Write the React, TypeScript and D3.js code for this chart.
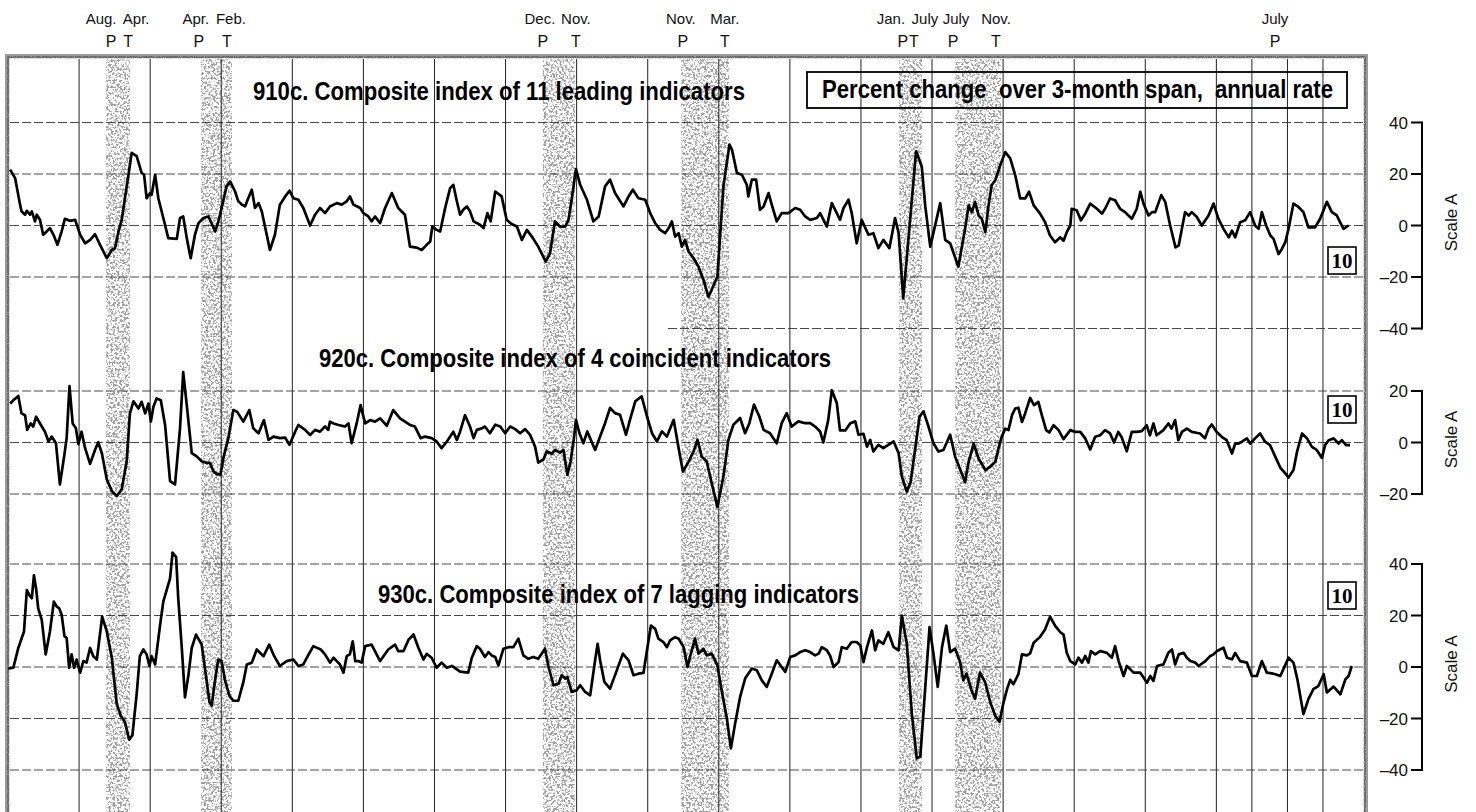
import React from "react";
import * as d3 from "d3";

// Time is measured in years after January 1955 (BASE_YEAR).
const BASE_YEAR = 1955;

// 910c. Composite index of 11 leading indicators (percent change, 3-month span, annual rate)
const leading: [number, number][] = [
  [0.06,21.7],[0.2,18.4],[0.34,8.1],[0.38,5.5],[0.48,4.2],[0.53,5.7],[0.62,4.2],[0.67,5.5],[0.76,1.6],[0.81,4.2],[0.9,2.2],[0.99,-3.6],[1.09,-2.3],[1.18,-1.0],[1.28,-3.6],[1.39,-7.5],[1.51,-2.3],[1.6,2.6],[1.74,1.8],[1.89,2.2],[2.03,-3.6],[2.17,-6.9],[2.31,-5.6],[2.45,-3.4],[2.59,-7.5],[2.78,-12.7],[2.92,-9.5],[3.01,-8.8],[3.11,-2.3],[3.2,2.2],[3.29,10.6],[3.39,19.7],[3.48,28.2],[3.62,26.9],[3.76,20.4],[3.83,19.7],[3.9,10.6],[4.0,12.6],[4.04,11.9],[4.14,19.7],[4.23,10.6],[4.37,2.9],[4.51,-4.9],[4.75,-5.2],[4.84,2.9],[4.93,3.5],[5.03,-4.9],[5.14,-12.7],[5.26,-3.6],[5.36,0.9],[5.5,2.9],[5.64,3.5],[5.83,-2.3],[5.92,1.6],[6.01,6.8],[6.15,15.2],[6.25,17.1],[6.39,13.2],[6.48,9.4],[6.58,8.1],[6.67,7.4],[6.76,10.6],[6.86,13.9],[6.95,6.8],[7.05,8.7],[7.14,5.5],[7.28,-3.6],[7.37,-9.5],[7.51,-3.6],[7.65,8.1],[7.8,11.3],[7.92,13.5],[8.03,10.6],[8.17,10.0],[8.31,6.8],[8.5,0],[8.64,4.2],[8.78,6.8],[8.92,4.8],[9.06,7.4],[9.25,8.7],[9.39,8.1],[9.53,9.4],[9.62,11.3],[9.72,8.1],[9.91,6.8],[10.0,4.8],[10.14,3.5],[10.23,1.6],[10.33,3.5],[10.47,0.9],[10.61,6.8],[10.8,12.6],[10.98,6.8],[11.17,4.2],[11.31,-8.2],[11.5,-8.6],[11.64,-9.5],[11.78,-7.5],[11.88,-6.2],[11.94,-0.4],[12.06,-1.7],[12.16,-2.3],[12.3,6.8],[12.44,14.5],[12.53,15.8],[12.63,9.4],[12.72,4.2],[12.81,6.1],[12.91,7.4],[13.0,5.5],[13.1,1.6],[13.28,0.3],[13.38,-1.0],[13.49,4.8],[13.58,1.6],[13.71,13.2],
  [13.89,11.3],[14.03,2.2],[14.17,0.6],[14.32,-0.4],[14.46,-5.6],[14.6,-1.7],[14.74,-4.3],[14.92,-8.2],[15.13,-14.0],[15.25,-10.8],[15.39,1.6],[15.53,-0.4],[15.68,-0.4],[15.77,2.2],[15.86,10.0],[15.98,21.9],[16.1,15.8],[16.29,10.0],[16.47,1.6],[16.62,3.5],[16.8,15.2],[16.94,17.8],[17.08,12.6],[17.32,7.4],[17.46,11.3],[17.58,13.9],[17.74,10.6],[17.93,10.0],[18.07,4.8],[18.21,0.9],[18.35,-1.7],[18.49,-3.0],[18.59,-1.0],[18.68,1.6],[18.77,-4.3],[18.87,-3.0],[18.96,-8.2],[19.05,-5.6],[19.15,-10.1],[19.29,-12.7],[19.43,-16.0],[19.57,-21.2],[19.71,-27.7],[19.96,-19.9],[20.13,15.2],[20.3,31.4],[20.37,29.5],[20.51,20.4],[20.65,19.7],[20.79,15.8],[20.83,11.3],[20.93,17.8],[21.05,17.8],[21.16,6.1],[21.26,7.4],[21.4,12.6],[21.49,8.1],[21.63,1.6],[21.77,4.8],[21.96,4.8],[22.15,6.8],[22.29,6.1],[22.43,3.5],[22.57,2.2],[22.76,2.9],[22.85,4.8],[23.04,-0.4],[23.18,8.7],[23.32,4.8],[23.41,2.2],[23.51,6.8],[23.65,10.0],[23.74,4.8],[23.88,-6.9],[24.02,2.2],[24.21,-3.6],[24.35,-3.0],[24.49,-8.8],[24.63,-5.6],[24.8,-8.8],[24.96,2.9],[25.06,-3.0],[25.19,-28.3],[25.55,28.8],[25.71,23.0],[25.81,7.4],[25.95,-8.2],[26.23,8.7],[26.37,-5.6],[26.51,-6.9],[26.74,-16.0],
  [26.93,-1.3],[27.03,7.8],[27.12,5.2],[27.21,9.2],[27.31,3.9],[27.4,2.6],[27.5,-2.6],[27.59,7.8],[27.68,15.7],[27.78,17.6],[27.92,23.5],[28.06,28.5],[28.2,26.1],[28.34,19.6],[28.48,10.5],[28.62,10.5],[28.73,13.1],[28.86,7.8],[29.04,4.6],[29.18,1.3],[29.32,-3.9],[29.46,-6.5],[29.61,-4.6],[29.7,-5.9],[29.79,-2.6],[29.89,0],[29.93,6.5],[30.07,5.9],[30.19,2.0],[30.31,4.6],[30.45,8.5],[30.64,6.5],[30.78,4.6],[30.87,6.5],[31.01,10.5],[31.15,9.8],[31.29,6.5],[31.43,5.2],[31.62,2.6],[31.76,6.5],[31.86,13.1],[31.95,8.5],[32.09,3.9],[32.19,5.2],[32.28,5.2],[32.45,11.8],[32.56,9.2],[32.7,0],[32.85,-8.5],[32.94,-7.8],[33.03,-1.3],[33.12,5.2],[33.22,3.9],[33.31,5.2],[33.45,3.3],[33.59,0],[33.78,3.9],[33.92,8.5],[34.06,2.6],[34.2,-1.3],[34.35,-4.6],[34.44,-2.0],[34.53,-4.6],[34.67,1.3],[34.81,2.0],[34.95,5.2],[35.09,0],[35.19,-1.3],[35.28,5.2],[35.4,0],[35.52,-3.9],[35.61,-5.2],[35.75,-11.1],[35.84,-9.2],[35.94,-6.5],[36.03,-1.3],[36.17,8.5],[36.31,7.2],[36.45,5.2],[36.59,-0.7],[36.78,-0.7],[36.92,2.6],[37.11,9.2],[37.25,5.2],[37.39,3.9],[37.48,1.3],[37.58,-1.3],[37.72,0]
];

// 920c. Composite index of 4 coincident indicators
const coincident: [number, number][] = [
  [0.06,15.1],[0.15,16.4],[0.29,18.1],[0.38,11.3],[0.48,10.6],[0.54,4.9],[0.64,7.4],[0.71,6.2],[0.79,10.0],[0.9,7.4],[1.04,4.2],[1.14,0.4],[1.23,2.3],[1.35,-0.3],[1.46,-16.3],[1.58,-5.4],[1.65,1.7],[1.73,21.9],[1.82,7.4],[1.91,5.5],[1.98,-0.6],[2.07,4.2],[2.17,-2.2],[2.31,-8.3],[2.45,-2.8],[2.54,0.1],[2.64,-4.1],[2.78,-14.4],[2.92,-18.8],[3.06,-20.8],[3.2,-18.2],[3.34,-7.3],[3.43,11.3],[3.53,16.0],[3.67,13.2],[3.76,15.8],[3.86,11.3],[3.95,15.1],[4.02,8.1],[4.09,13.8],[4.18,17.1],[4.3,16.4],[4.42,6.8],[4.56,-15.0],[4.7,-16.3],[4.84,5.5],[4.93,27.3],[5.03,14.5],[5.17,-4.1],[5.31,-5.4],[5.45,-7.3],[5.59,-7.9],[5.68,-7.9],[5.78,-11.2],[5.89,-12.4],[5.98,-12.4],[6.06,-6.0],[6.2,1.7],[6.34,12.6],[6.45,11.9],[6.62,8.1],[6.79,12.6],[6.9,5.5],[7.05,3.6],[7.2,8.7],[7.33,1.0],[7.47,2.3],[7.65,1.7],[7.8,1.9],[7.92,-0.9],[8.08,4.2],[8.17,6.8],[8.36,4.9],[8.5,2.9],[8.64,4.9],[8.78,4.2],[8.92,6.2],[9.01,4.9],[9.06,8.1],[9.16,7.4],[9.3,6.8],[9.48,6.2],[9.58,7.4],[9.67,-0.3],[9.81,7.4],[9.92,14.5],[10.05,7.4],[10.19,8.7],[10.33,8.1],[10.47,9.4],[10.66,6.5],[10.84,12.6],[11.03,9.4],[11.17,8.1],[11.31,6.8],[11.45,6.2],[11.61,1.7],[11.74,2.3],[11.92,1.7],[12.06,0.4],[12.2,-2.2],[12.35,0.4],[12.53,4.2],[12.63,1.0],[12.72,4.2],[12.86,10.6],[13.0,6.2],[13.1,1.7],[13.19,4.9],[13.33,5.5],
  [13.42,6.2],[13.56,3.6],[13.71,6.9],[13.85,6.2],[13.99,3.6],[14.13,6.2],[14.27,5.2],[14.41,3.6],[14.55,5.2],[14.69,3.0],[14.83,-1.6],[14.92,-7.8],[15.07,-6.5],[15.16,-3.5],[15.3,-4.4],[15.39,-2.9],[15.53,-3.9],[15.63,-2.9],[15.74,-12.6],[15.83,-7.4],[15.93,2.3],[15.98,8.8],[16.08,3.6],[16.19,-0.3],[16.3,4.3],[16.52,-2.9],[16.66,2.3],[16.8,7.5],[16.94,13.4],[17.08,11.4],[17.22,10.8],[17.39,3.0],[17.5,8.8],[17.65,16.0],[17.83,17.9],[17.98,10.1],[18.12,3.6],[18.26,0.4],[18.4,4.3],[18.54,2.3],[18.73,8.8],[18.87,-2.2],[18.99,-11.3],[19.15,-7.4],[19.29,-3.5],[19.4,1.0],[19.52,-5.5],[19.66,-7.4],[19.8,-15.8],[19.96,-25.0],[20.13,-13.2],[20.27,1.0],[20.41,6.9],[20.6,9.5],[20.74,3.6],[20.86,7.5],[20.99,14.7],[21.14,10.1],[21.26,4.9],[21.44,3.6],[21.63,-0.3],[21.77,7.5],[21.91,11.4],[22.05,6.2],[22.24,8.2],[22.43,7.5],[22.57,7.5],[22.71,6.2],[22.85,4.3],[22.94,0],[23.08,8.8],[23.18,20.3],[23.32,15.3],[23.41,4.7],[23.56,4.7],[23.7,7.5],[23.84,8.2],[23.93,3.0],[24.07,3.4],[24.17,-1.6],[24.26,1.0],[24.35,-3.5],[24.49,-0.9],[24.63,-2.2],[24.92,0.4],[25.06,-4.2],[25.15,-13.2],[25.29,-19.1],[25.4,-15.2],[25.52,-2.9],[25.65,10.1],[25.76,12.1],[25.9,6.2],[26.04,-0.3],[26.18,-3.5],[26.32,-2.9],[26.51,3.0],[26.65,-5.5],
  [26.93,-15.3],[27.03,-7.5],[27.17,-0.4],[27.31,-6.2],[27.5,-10.7],[27.64,-9.4],[27.78,-7.5],[27.87,-2.3],[27.96,2.2],[28.06,5.4],[28.15,4.8],[28.25,10.6],[28.34,13.2],[28.43,13.5],[28.53,8.0],[28.62,11.3],[28.76,17.3],[28.87,14.5],[28.99,15.8],[29.09,10.6],[29.21,4.8],[29.3,3.9],[29.42,6.7],[29.56,4.8],[29.7,1.3],[29.89,4.8],[30.03,4.1],[30.17,4.1],[30.31,1.6],[30.45,-2.7],[30.59,2.2],[30.73,2.8],[30.87,4.8],[31.01,3.5],[31.12,0],[31.24,4.1],[31.33,2.2],[31.48,-3.4],[31.62,4.1],[31.76,4.1],[31.9,4.4],[32.04,6.7],[32.13,2.8],[32.23,7.4],[32.32,2.8],[32.51,4.8],[32.65,7.4],[32.74,5.4],[32.84,8.7],[32.93,0.9],[33.03,4.1],[33.17,5.4],[33.31,4.1],[33.54,3.5],[33.68,1.6],[33.78,5.4],[33.87,7.0],[34.01,4.1],[34.15,2.2],[34.29,0.9],[34.44,-4.3],[34.53,-0.4],[34.62,-0.4],[34.72,0.3],[34.86,1.6],[34.95,-0.4],[35.09,1.6],[35.23,3.5],[35.37,0.3],[35.51,-1.0],[35.66,-5.6],[35.8,-9.8],[35.94,-12.0],[36.03,-13.6],[36.17,-10.7],[36.27,-3.6],[36.41,3.5],[36.55,1.6],[36.69,-1.7],[36.83,-3.0],[36.97,-6.0],[37.06,-1.0],[37.16,0.9],[37.3,1.6],[37.44,-0.4],[37.53,0.9],[37.65,-1.0],[37.76,-1.0]
];

// 930c. Composite index of 7 lagging indicators
const lagging: [number, number][] = [
  [0.01,-0.5],[0.15,-0.3],[0.29,7.4],[0.45,13.8],[0.53,29.9],[0.6,27.9],[0.67,26.7],[0.73,35.6],[0.79,30.5],[0.85,22.8],[0.95,18.3],[1.06,4.9],[1.18,13.8],[1.29,25.4],[1.37,23.5],[1.44,22.8],[1.51,20.3],[1.59,11.9],[1.65,11.3],[1.72,-0.3],[1.79,4.9],[1.86,-0.3],[1.93,2.9],[2.03,-2.2],[2.12,2.3],[2.21,1.7],[2.31,7.4],[2.4,4.2],[2.5,2.9],[2.65,19.6],[2.78,13.8],[2.92,3.6],[3.06,-14.4],[3.17,-18.8],[3.29,-21.4],[3.41,-28.2],[3.5,-26.5],[3.62,-10.5],[3.71,4.2],[3.81,6.8],[3.9,4.9],[3.98,0.4],[4.04,4.2],[4.14,1.0],[4.28,16.4],[4.37,25.4],[4.56,34.4],[4.63,44.4],[4.73,42.7],[4.79,26.7],[4.89,7.4],[4.98,-11.8],[5.08,-2.8],[5.17,7.4],[5.29,12.6],[5.45,8.7],[5.54,-0.3],[5.67,-13.7],[5.73,-15.0],[5.85,-2.8],[5.92,2.9],[6.01,2.3],[6.11,-5.4],[6.23,-11.2],[6.34,-13.1],[6.48,-13.1],[6.62,-6.0],[6.72,1.0],[6.86,1.7],[7.0,6.8],[7.19,4.2],[7.35,8.7],[7.49,4.2],[7.65,0.4],[7.84,2.3],[8.03,2.9],[8.17,0.4],[8.31,1.0],[8.41,3.6],[8.59,8.1],[8.8,6.8],[8.92,4.9],[9.06,1.7],[9.16,3.6],[9.25,2.3],[9.34,1.0],[9.44,-2.2],[9.53,4.2],[9.62,4.9],[9.7,10.0],[9.77,2.3],[9.86,2.3],[9.95,1.7],[10.05,8.1],[10.23,8.7],[10.47,2.3],[10.7,6.8],[10.89,8.7],[10.98,6.2],[11.13,6.2],[11.27,10.6],[11.41,12.6],[11.55,7.4],[11.69,2.9],[11.78,5.1],[11.92,3.6],[12.06,-0.3],[12.2,1.7],[12.35,-0.3],[12.49,0.4],[12.72,-1.8],[12.95,-2.2],[13.05,3.6],[13.19,8.1],
  [13.28,7.1],[13.42,3.9],[13.52,5.8],[13.61,4.5],[13.71,3.9],[13.8,0.6],[13.94,7.1],[14.08,7.7],[14.22,7.7],[14.36,11.0],[14.5,4.5],[14.64,3.2],[14.78,3.9],[14.92,3.2],[15.11,7.1],[15.21,0],[15.35,-7.1],[15.49,-6.5],[15.58,-3.2],[15.68,-4.5],[15.74,-3.9],[15.86,-9.7],[16.0,-9.0],[16.1,-7.1],[16.24,-9.7],[16.38,-11.0],[16.52,2.6],[16.59,9.0],[16.66,2.6],[16.78,-5.8],[16.94,-8.4],[17.13,-1.3],[17.3,5.2],[17.46,2.6],[17.6,-3.2],[17.74,-2.6],[17.88,-2.3],[17.98,6.5],[18.09,16.1],[18.21,14.8],[18.3,11.0],[18.44,9.7],[18.54,7.7],[18.63,10.3],[18.77,11.6],[18.87,11.0],[19.01,7.7],[19.12,0],[19.19,3.9],[19.33,11.0],[19.43,5.2],[19.57,7.1],[19.66,4.5],[19.8,5.2],[19.96,0.6],[20.08,-9.0],[20.22,-19.4],[20.34,-31.6],[20.46,-21.9],[20.6,-11.6],[20.74,-4.5],[20.93,-0.6],[21.07,-1.3],[21.21,-5.2],[21.35,-7.7],[21.49,-2.6],[21.63,2.6],[21.77,0],[21.87,-1.9],[22.01,3.9],[22.15,4.5],[22.29,5.8],[22.43,6.5],[22.57,5.8],[22.71,4.5],[22.81,5.2],[22.9,7.7],[23.04,6.5],[23.13,4.5],[23.23,0],[23.37,1.9],[23.46,7.7],[23.6,7.1],[23.74,9.7],[23.88,9.7],[23.98,8.4],[24.07,1.9],[24.17,7.7],[24.31,14.2],[24.4,6.5],[24.49,10.3],[24.63,9.0],[24.77,13.5],[24.92,7.7],[25.06,6.5],[25.15,20.0],[25.29,9.0],[25.43,-18.1],[25.57,-35.5],[25.67,-34.8],[25.81,-7.7],[25.93,15.5],[26.04,5.2],[26.16,-7.7],[26.28,7.7],[26.4,16.1],[26.51,5.8],[26.65,7.1],[26.79,1.9],[26.88,-5.2],[26.97,-2.6],[27.11,-9.0],[27.21,-12.3],
  [27.35,-2.2],[27.5,-6.1],[27.64,-13.8],[27.78,-19.0],[27.9,-21.3],[28.01,-13.8],[28.11,-8.6],[28.2,-5.0],[28.29,-6.7],[28.43,-2.8],[28.53,4.9],[28.67,4.5],[28.76,5.3],[28.86,9.4],[29.04,11.7],[29.18,14.6],[29.32,19.5],[29.47,15.9],[29.61,13.5],[29.7,12.6],[29.79,5.5],[29.89,2.3],[30.03,1.0],[30.12,3.6],[30.22,1.7],[30.31,4.3],[30.4,1.7],[30.47,6.2],[30.59,4.9],[30.73,6.2],[30.92,5.5],[31.06,3.6],[31.15,8.1],[31.25,2.3],[31.39,-3.5],[31.48,0.4],[31.58,-0.9],[31.67,-2.2],[31.86,-2.2],[32.05,-6.1],[32.14,-3.5],[32.23,-5.4],[32.33,0.4],[32.51,1.0],[32.65,5.5],[32.75,6.8],[32.84,1.0],[32.94,4.9],[33.08,5.5],[33.17,3.6],[33.27,2.3],[33.41,1.7],[33.5,0.4],[33.69,2.3],[33.83,4.3],[33.92,4.9],[34.02,6.2],[34.2,7.5],[34.3,3.6],[34.44,3.0],[34.53,5.5],[34.67,2.3],[34.86,1.7],[35.0,-3.5],[35.14,-3.5],[35.28,2.3],[35.42,-2.2],[35.56,-2.5],[35.66,-2.8],[35.8,-3.5],[36.03,3.6],[36.17,1.7],[36.28,-4.8],[36.45,-18.3],[36.59,-12.5],[36.73,-8.6],[36.87,-7.4],[37.02,-2.8],[37.11,-9.9],[37.3,-7.6],[37.49,-10.6],[37.63,-4.8],[37.72,-3.5],[37.81,0.4]
];

// Recessions (shaded), years after Jan 1955
const recessions: [number, number][] = [
  [2.76, 3.43], [5.43, 6.3], [15.05, 15.95], [18.94, 20.29], [25.07, 25.72], [26.65, 27.94]
];

// Business-cycle turning points: time, P/T, month label
const turningPoints: [number, string, string][] = [
  [2.9, "P", "Aug."], [3.38, "T", "Apr."], [5.37, "P", "Apr."], [6.16, "T", "Feb."],
  [15.05, "P", "Dec."], [15.98, "T", "Nov."], [18.99, "P", "Nov."], [20.17, "T", "Mar."],
  [25.18, "P", "Jan."], [25.49, "T", "July"], [26.59, "P", "July"], [27.8, "T", "Nov."],
  [35.65, "P", "July"]
];
// horizontal nudges for the month labels (layout only)
const monthLabelNudge = [-10, 8, -3, 4, -3, 0, -2, 0, -12, 11, 3, 0, 0];

// Vertical grid line years
const gridYears = [1957, 1959, 1961, 1963, 1965, 1967, 1969, 1971, 1973, 1975, 1977, 1979, 1981, 1983, 1985, 1987, 1989, 1990, 1991, 1992];

const topTicks = [40, 20, 0, -20, -40];
const midTicks = [20, 0, -20];
const botTicks = [40, 20, 0, -20, -40];

const titles = [
  "910c. Composite index of 11 leading indicators",
  "920c. Composite index of 4 coincident indicators",
  "930c. Composite index of 7 lagging indicators",
];
const unitLabel = "Percent change  over 3-month span,  annual rate";

const NARROW = "'Liberation Sans Narrow','Arial Narrow','Liberation Sans',Arial,sans-serif";
const SANS = "'Liberation Sans',Arial,Helvetica,sans-serif";

export default function App() {
  const x = d3.scaleLinear().domain([0, 37]).range([8, 8 + 37 * 35.54]);
  const yTop = d3.scaleLinear().domain([-40, 40]).range([328.5, 122.5]);
  const yMid = d3.scaleLinear().domain([-20, 20]).range([494, 391]);
  const yBot = d3.scaleLinear().domain([-40, 40]).range([770, 564]);

  const frameL = 10, frameR = 1363, frameT = 59;

  const mkLine = (ys: d3.ScaleLinear<number, number>) =>
    d3.line<[number, number]>().x(d => x(d[0])).y(d => ys(d[1])).curve(d3.curveLinear);

  const hgrid = (ys: d3.ScaleLinear<number, number>, vals: number[], key: string, x0 = frameL) =>
    vals.map(v => (
      <line key={key + v} x1={x0} x2={frameR} y1={ys(v)} y2={ys(v)} stroke="#333" strokeWidth={0.9} strokeDasharray="9,3" />
    ));

  const rightAxis = (ys: d3.ScaleLinear<number, number>, ticks: number[], key: string) => {
    const ax = 1422;
    const ext = d3.extent(ticks) as [number, number];
    return (
      <g key={key}>
        <line x1={ax} x2={ax} y1={ys(ext[1]) - 1} y2={ys(ext[0]) + 1} stroke="#000" strokeWidth={2} />
        {ticks.map(t => (
          <g key={key + t}>
            <line x1={1411} x2={ax} y1={ys(t)} y2={ys(t)} stroke="#000" strokeWidth={2} />
            <text x={1408} y={ys(t)} dy="0.36em" textAnchor="end" fontFamily={SANS} fontSize={17} fill="#111">
              {t < 0 ? "\u2013" + Math.abs(t) : String(t)}
            </text>
          </g>
        ))}
        <text transform={`translate(1457,${ys(0) - 3}) rotate(-90)`} textAnchor="middle" fontFamily={SANS} fontSize={17} fill="#111">
          Scale A
        </text>
      </g>
    );
  };

  const box10 = (y: number, key: string) => (
    <g key={key}>
      <rect x={1328} y={y} width={28} height={27} fill="#fff" stroke="#000" strokeWidth={1.6} />
      <text x={1342} y={y + 21} textAnchor="middle" fontFamily="'Liberation Serif','Times New Roman',serif" fontWeight="bold" fontSize={21} fill="#000">
        10
      </text>
    </g>
  );

  return (
    <svg width={1476} height={812} style={{ position: "absolute", left: 0, top: 0, background: "#fff" }}>
      <defs>
        <filter id="stipple" x="0" y="0" width="1" height="1" filterUnits="objectBoundingBox">
          <feTurbulence type="fractalNoise" baseFrequency="0.45" numOctaves="3" seed="7" result="noise" />
          <feColorMatrix in="noise" type="matrix"
            values="0 0 0 0 0.35  0 0 0 0 0.35  0 0 0 0 0.35  9 0 0 0 -4.4" result="dots" />
          <feComposite in="dots" in2="SourceGraphic" operator="in" />
        </filter>
        <filter id="borderTex" x="0" y="0" width="1" height="1">
          <feTurbulence type="fractalNoise" baseFrequency="0.9" numOctaves="1" seed="3" result="n" />
          <feColorMatrix in="n" type="matrix" values="0 0 0 0 0.15  0 0 0 0 0.15  0 0 0 0 0.15  7 0 0 0 -2.2" result="d" />
          <feComposite in="d" in2="SourceGraphic" operator="in" />
        </filter>
      </defs>

      <rect x={0} y={0} width={1476} height={812} fill="#fff" />

      {/* recession shading */}
      {recessions.map(([a, b], i) => (
        <rect key={"r" + i} x={x(a)} y={frameT} width={x(b) - x(a)} height={812 - frameT} fill="#000" filter="url(#stipple)" />
      ))}

      {/* vertical grid */}
      {gridYears.map(yr => (
        <line key={"v" + yr} x1={x(yr - BASE_YEAR)} x2={x(yr - BASE_YEAR)} y1={frameT} y2={812} stroke="#222" strokeWidth={1} />
      ))}

      {/* horizontal dashed grid */}
      {hgrid(yTop, [40, 20, 0, -20], "ht")}
      {hgrid(yTop, [-40], "ht2", 668)}
      {hgrid(yMid, midTicks, "hm")}
      {hgrid(yBot, botTicks, "hb")}

      {/* frame */}
      <rect x={7} y={56} width={1359} height={800} fill="none" stroke="#9a9a9a" strokeWidth={4} />
      <g filter="url(#borderTex)">
        <rect x={7} y={56} width={1359} height={800} fill="none" stroke="#000" strokeWidth={4.5} />
      </g>

      {/* series */}
      <path d={mkLine(yTop)(leading) || ""} fill="none" stroke="#000" strokeWidth={2.7} strokeLinejoin="round" />
      <path d={mkLine(yMid)(coincident) || ""} fill="none" stroke="#000" strokeWidth={2.7} strokeLinejoin="round" />
      <path d={mkLine(yBot)(lagging) || ""} fill="none" stroke="#000" strokeWidth={2.7} strokeLinejoin="round" />

      {/* titles */}
      <text x={253} y={100} textLength={492} lengthAdjust="spacingAndGlyphs" fontFamily={NARROW} fontWeight="bold" fontSize={26} fill="#000">{titles[0]}</text>
      <text x={319} y={367} textLength={512} lengthAdjust="spacingAndGlyphs" fontFamily={NARROW} fontWeight="bold" fontSize={26} fill="#000">{titles[1]}</text>
      <text x={378} y={603} textLength={481} lengthAdjust="spacingAndGlyphs" fontFamily={NARROW} fontWeight="bold" fontSize={26} fill="#000">{titles[2]}</text>

      <rect x={807} y={72} width={540} height={36} fill="none" stroke="#000" strokeWidth={1.8} />
      <text x={822} y={98} textLength={511} lengthAdjust="spacingAndGlyphs" fontFamily={NARROW} fontWeight="bold" fontSize={26} fill="#000" style={{ whiteSpace: "pre" }}>{unitLabel}</text>

      {box10(247, "b1")}
      {box10(396, "b2")}
      {box10(582, "b3")}

      {/* turning point labels */}
      {turningPoints.map(([t, pt, m], i) => (
        <g key={"tp" + i}>
          <text x={x(t) + monthLabelNudge[i]} y={24} textAnchor="middle" fontFamily={NARROW} fontSize={15} fill="#111">{m}</text>
          <text x={x(t)} y={47} textAnchor="middle" fontFamily={SANS} fontSize={16} fill="#111">{pt}</text>
        </g>
      ))}

      {rightAxis(yTop, topTicks, "at")}
      {rightAxis(yMid, midTicks, "am")}
      {rightAxis(yBot, botTicks, "ab")}
    </svg>
  );
}
